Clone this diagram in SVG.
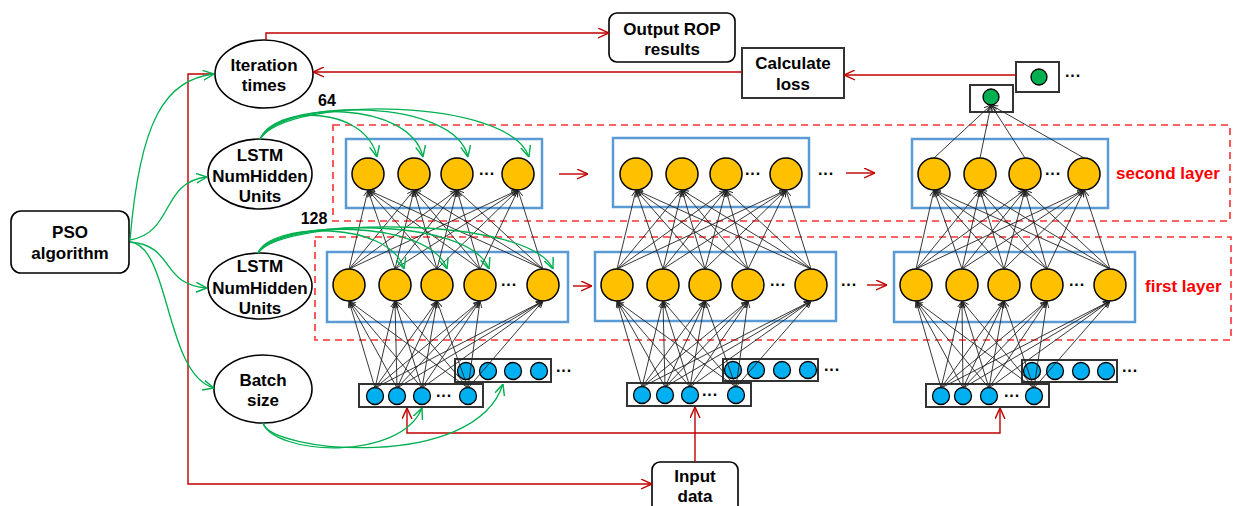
<svg xmlns="http://www.w3.org/2000/svg" width="1233" height="506" viewBox="0 0 1233 506">
<style>
text{font-family:"Liberation Sans",Arial,sans-serif;font-weight:bold;font-size:17px;fill:#000;text-anchor:middle}
.lbl{fill:#FF0000;text-anchor:start}
.dots{font-size:16px}
.num{font-size:16px}
.shape{fill:#fff;stroke:#000;stroke-width:1.6}
.box{fill:#fff;stroke:#333;stroke-width:2}
.dash{fill:none;stroke:#FF3030;stroke-width:1.6;stroke-dasharray:7,5}
.blue{fill:none;stroke:#5B9BD5;stroke-width:2.5}
.neu{fill:#FFC000;stroke:#000;stroke-width:1.5}
.inp{fill:#00B0F0;stroke:#000;stroke-width:1.3}
.out{fill:#00B050;stroke:#000;stroke-width:1.3}
.bl line{stroke:#222;stroke-width:0.9;marker-end:url(#ab)}
.red{fill:none;stroke:#C00000;stroke-width:1.4}
.gr{fill:none;stroke:#00B050;stroke-width:1.3;marker-end:url(#ag)}
</style>
<defs>
<marker id="ab" viewBox="0 0 10 10" refX="10" refY="5" markerWidth="7" markerHeight="7" orient="auto" markerUnits="userSpaceOnUse"><path d="M0,1 L10,5 L0,9" fill="none" stroke="#222" stroke-width="1.3"/></marker>
<marker id="ar" viewBox="0 0 10 10" refX="10" refY="5" markerWidth="11" markerHeight="11" orient="auto" markerUnits="userSpaceOnUse"><path d="M0,0.5 L10,5 L0,9.5" fill="none" stroke="#C00000" stroke-width="1.3"/></marker>
<marker id="ag" viewBox="0 0 10 10" refX="10" refY="5" markerWidth="11" markerHeight="11" orient="auto" markerUnits="userSpaceOnUse"><path d="M0,0.5 L10,5 L0,9.5" fill="none" stroke="#00B050" stroke-width="1.3"/></marker>
</defs>
<rect width="1233" height="506" fill="#fff"/>

<g id="layer-frames">
<rect class="dash" x="333" y="125" width="897" height="96"/>
<rect class="dash" x="315" y="237" width="916" height="103"/>
</g>

<g id="pso"><rect class="shape" x="11" y="211" width="118" height="62" rx="10"/><text x="70" y="238">PSO</text><text x="70" y="259">algorithm</text></g>
<g id="iteration"><ellipse class="shape" cx="264" cy="74" rx="49" ry="34"/><text x="264" y="71">Iteration</text><text x="264" y="91">times</text></g>
<g id="lstm1"><ellipse class="shape" cx="260" cy="174" rx="52" ry="35"/><text x="260" y="161">LSTM</text><text x="260" y="182">NumHidden</text><text x="260" y="202">Units</text></g>
<g id="lstm2"><ellipse class="shape" cx="260" cy="286" rx="52" ry="33"/><text x="260" y="272">LSTM</text><text x="260" y="294">NumHidden</text><text x="260" y="314">Units</text></g>
<g id="batch"><ellipse class="shape" cx="263" cy="389" rx="49" ry="34"/><text x="263" y="386">Batch</text><text x="263" y="406">size</text></g>
<g id="output-rop"><rect class="shape" x="609" y="13" width="126" height="49" rx="8"/><text x="672" y="35">Output ROP</text><text x="672" y="55">results</text></g>
<g id="calc-loss"><rect class="box" x="742" y="48" width="102" height="50"/><text x="793" y="69">Calculate</text><text x="793" y="90">loss</text></g>
<g id="input-data"><rect class="shape" x="652" y="462" width="86" height="52" rx="8"/><text x="695" y="482">Input</text><text x="695" y="502">data</text></g>
<g id="labels"><text class="num" x="327" y="106">64</text><text class="num" x="314" y="224">128</text><text class="lbl" x="1116" y="179">second layer</text><text class="lbl" x="1145" y="292">first layer</text></g>

<g id="second-layer-1"><rect class="blue" x="346" y="139" width="196" height="69"/>
<circle class="neu" cx="368" cy="174" r="16"/><circle class="neu" cx="414" cy="174" r="16"/><circle class="neu" cx="457" cy="174" r="16"/><circle class="neu" cx="518" cy="174" r="16"/><text class="dots" x="487" y="179">···</text></g>
<g id="second-layer-2"><rect class="blue" x="613" y="138" width="196" height="69"/>
<circle class="neu" cx="636" cy="174" r="16"/><circle class="neu" cx="682" cy="174" r="16"/><circle class="neu" cx="726" cy="174" r="16"/><circle class="neu" cx="786" cy="174" r="16"/><text class="dots" x="753" y="179">···</text><text class="dots" x="826" y="179">···</text></g>
<g id="second-layer-3"><rect class="blue" x="912" y="139" width="196" height="69"/>
<circle class="neu" cx="934" cy="174" r="16"/><circle class="neu" cx="980" cy="174" r="16"/><circle class="neu" cx="1025" cy="174" r="16"/><circle class="neu" cx="1084" cy="174" r="16"/><text class="dots" x="1053" y="179">···</text></g>

<g id="first-layer-1"><rect class="blue" x="327" y="252" width="241" height="70"/>
<circle class="neu" cx="349" cy="285" r="16"/><circle class="neu" cx="395" cy="285" r="16"/><circle class="neu" cx="437" cy="285" r="16"/><circle class="neu" cx="480" cy="285" r="16"/><circle class="neu" cx="543" cy="285" r="16"/><text class="dots" x="509" y="290">···</text></g>
<g id="first-layer-2"><rect class="blue" x="595" y="252" width="241" height="69"/>
<circle class="neu" cx="617" cy="285" r="16"/><circle class="neu" cx="663" cy="285" r="16"/><circle class="neu" cx="705" cy="285" r="16"/><circle class="neu" cx="748" cy="285" r="16"/><circle class="neu" cx="811" cy="285" r="16"/><text class="dots" x="778" y="290">···</text><text class="dots" x="849" y="290">···</text></g>
<g id="first-layer-3"><rect class="blue" x="894" y="252" width="241" height="70"/>
<circle class="neu" cx="916" cy="285" r="16"/><circle class="neu" cx="962" cy="285" r="16"/><circle class="neu" cx="1004" cy="285" r="16"/><circle class="neu" cx="1047" cy="285" r="16"/><circle class="neu" cx="1110" cy="285" r="16"/><text class="dots" x="1077" y="290">···</text></g>

<g id="input-back-1"><rect class="box" x="455" y="359" width="96" height="23"/>
<circle class="inp" cx="466" cy="371" r="8.5"/><circle class="inp" cx="488" cy="371" r="8.5"/><circle class="inp" cx="513" cy="371" r="8.5"/><circle class="inp" cx="539" cy="371" r="8.5"/><text class="dots" x="564" y="376">···</text></g>
<g id="input-front-1"><rect class="box" x="359" y="384" width="124" height="23"/>
<circle class="inp" cx="375" cy="396" r="8.5"/><circle class="inp" cx="397" cy="396" r="8.5"/><circle class="inp" cx="422" cy="396" r="8.5"/><circle class="inp" cx="468" cy="396" r="8.5"/><text class="dots" x="444" y="401">···</text></g>
<g id="input-back-2"><rect class="box" x="723" y="359" width="95" height="22"/>
<circle class="inp" cx="733" cy="370" r="8.5"/><circle class="inp" cx="756" cy="370" r="8.5"/><circle class="inp" cx="782" cy="370" r="8.5"/><circle class="inp" cx="808" cy="370" r="8.5"/><text class="dots" x="832" y="375">···</text></g>
<g id="input-front-2"><rect class="box" x="627" y="383" width="124" height="23"/>
<circle class="inp" cx="642" cy="395" r="8.5"/><circle class="inp" cx="665" cy="395" r="8.5"/><circle class="inp" cx="690" cy="395" r="8.5"/><circle class="inp" cx="736" cy="395" r="8.5"/><text class="dots" x="710" y="400">···</text></g>
<g id="input-back-3"><rect class="box" x="1022" y="360" width="95" height="22"/>
<circle class="inp" cx="1032" cy="371" r="8.5"/><circle class="inp" cx="1055" cy="371" r="8.5"/><circle class="inp" cx="1081" cy="371" r="8.5"/><circle class="inp" cx="1106" cy="371" r="8.5"/><text class="dots" x="1130" y="376">···</text></g>
<g id="input-front-3"><rect class="box" x="926" y="384" width="123" height="23"/>
<circle class="inp" cx="941" cy="396" r="8.5"/><circle class="inp" cx="963" cy="396" r="8.5"/><circle class="inp" cx="989" cy="396" r="8.5"/><circle class="inp" cx="1034" cy="396" r="8.5"/><text class="dots" x="1012" y="401">···</text></g>

<g id="output-1"><rect class="box" x="970" y="85" width="43" height="27"/><circle class="out" cx="991" cy="97" r="8"/></g>
<g id="output-2"><rect class="box" x="1016" y="62" width="43" height="30"/><circle class="out" cx="1039" cy="77" r="8"/><text class="dots" x="1073" y="81">···</text></g>

<g id="connectors">
<g class="bl">
<line x1="375" y1="388" x2="349" y2="301"/><line x1="375" y1="388" x2="395" y2="301"/><line x1="375" y1="388" x2="437" y2="301"/><line x1="375" y1="388" x2="480" y2="301"/><line x1="375" y1="388" x2="543" y2="301"/>
<line x1="397" y1="388" x2="349" y2="301"/><line x1="397" y1="388" x2="395" y2="301"/><line x1="397" y1="388" x2="437" y2="301"/><line x1="397" y1="388" x2="480" y2="301"/><line x1="397" y1="388" x2="543" y2="301"/>
<line x1="422" y1="388" x2="349" y2="301"/><line x1="422" y1="388" x2="395" y2="301"/><line x1="422" y1="388" x2="437" y2="301"/><line x1="422" y1="388" x2="480" y2="301"/><line x1="422" y1="388" x2="543" y2="301"/>
<line x1="468" y1="388" x2="349" y2="301"/><line x1="468" y1="388" x2="395" y2="301"/><line x1="468" y1="388" x2="437" y2="301"/><line x1="468" y1="388" x2="480" y2="301"/><line x1="468" y1="388" x2="543" y2="301"/>
<line x1="349" y1="269" x2="368" y2="190"/><line x1="349" y1="269" x2="414" y2="190"/><line x1="349" y1="269" x2="457" y2="190"/><line x1="349" y1="269" x2="518" y2="190"/>
<line x1="395" y1="269" x2="368" y2="190"/><line x1="395" y1="269" x2="414" y2="190"/><line x1="395" y1="269" x2="457" y2="190"/><line x1="395" y1="269" x2="518" y2="190"/>
<line x1="437" y1="269" x2="368" y2="190"/><line x1="437" y1="269" x2="414" y2="190"/><line x1="437" y1="269" x2="457" y2="190"/><line x1="437" y1="269" x2="518" y2="190"/>
<line x1="480" y1="269" x2="368" y2="190"/><line x1="480" y1="269" x2="414" y2="190"/><line x1="480" y1="269" x2="457" y2="190"/><line x1="480" y1="269" x2="518" y2="190"/>
<line x1="543" y1="269" x2="368" y2="190"/><line x1="543" y1="269" x2="414" y2="190"/><line x1="543" y1="269" x2="457" y2="190"/><line x1="543" y1="269" x2="518" y2="190"/>

<line x1="642" y1="387" x2="617" y2="301"/><line x1="642" y1="387" x2="663" y2="301"/><line x1="642" y1="387" x2="705" y2="301"/><line x1="642" y1="387" x2="748" y2="301"/><line x1="642" y1="387" x2="811" y2="301"/>
<line x1="665" y1="387" x2="617" y2="301"/><line x1="665" y1="387" x2="663" y2="301"/><line x1="665" y1="387" x2="705" y2="301"/><line x1="665" y1="387" x2="748" y2="301"/><line x1="665" y1="387" x2="811" y2="301"/>
<line x1="690" y1="387" x2="617" y2="301"/><line x1="690" y1="387" x2="663" y2="301"/><line x1="690" y1="387" x2="705" y2="301"/><line x1="690" y1="387" x2="748" y2="301"/><line x1="690" y1="387" x2="811" y2="301"/>
<line x1="736" y1="387" x2="617" y2="301"/><line x1="736" y1="387" x2="663" y2="301"/><line x1="736" y1="387" x2="705" y2="301"/><line x1="736" y1="387" x2="748" y2="301"/><line x1="736" y1="387" x2="811" y2="301"/>
<line x1="617" y1="269" x2="636" y2="190"/><line x1="617" y1="269" x2="682" y2="190"/><line x1="617" y1="269" x2="726" y2="190"/><line x1="617" y1="269" x2="786" y2="190"/>
<line x1="663" y1="269" x2="636" y2="190"/><line x1="663" y1="269" x2="682" y2="190"/><line x1="663" y1="269" x2="726" y2="190"/><line x1="663" y1="269" x2="786" y2="190"/>
<line x1="705" y1="269" x2="636" y2="190"/><line x1="705" y1="269" x2="682" y2="190"/><line x1="705" y1="269" x2="726" y2="190"/><line x1="705" y1="269" x2="786" y2="190"/>
<line x1="748" y1="269" x2="636" y2="190"/><line x1="748" y1="269" x2="682" y2="190"/><line x1="748" y1="269" x2="726" y2="190"/><line x1="748" y1="269" x2="786" y2="190"/>
<line x1="811" y1="269" x2="636" y2="190"/><line x1="811" y1="269" x2="682" y2="190"/><line x1="811" y1="269" x2="726" y2="190"/><line x1="811" y1="269" x2="786" y2="190"/>

<line x1="941" y1="388" x2="916" y2="301"/><line x1="941" y1="388" x2="962" y2="301"/><line x1="941" y1="388" x2="1004" y2="301"/><line x1="941" y1="388" x2="1047" y2="301"/><line x1="941" y1="388" x2="1110" y2="301"/>
<line x1="963" y1="388" x2="916" y2="301"/><line x1="963" y1="388" x2="962" y2="301"/><line x1="963" y1="388" x2="1004" y2="301"/><line x1="963" y1="388" x2="1047" y2="301"/><line x1="963" y1="388" x2="1110" y2="301"/>
<line x1="989" y1="388" x2="916" y2="301"/><line x1="989" y1="388" x2="962" y2="301"/><line x1="989" y1="388" x2="1004" y2="301"/><line x1="989" y1="388" x2="1047" y2="301"/><line x1="989" y1="388" x2="1110" y2="301"/>
<line x1="1034" y1="388" x2="916" y2="301"/><line x1="1034" y1="388" x2="962" y2="301"/><line x1="1034" y1="388" x2="1004" y2="301"/><line x1="1034" y1="388" x2="1047" y2="301"/><line x1="1034" y1="388" x2="1110" y2="301"/>
<line x1="916" y1="269" x2="934" y2="190"/><line x1="916" y1="269" x2="980" y2="190"/><line x1="916" y1="269" x2="1025" y2="190"/><line x1="916" y1="269" x2="1084" y2="190"/>
<line x1="962" y1="269" x2="934" y2="190"/><line x1="962" y1="269" x2="980" y2="190"/><line x1="962" y1="269" x2="1025" y2="190"/><line x1="962" y1="269" x2="1084" y2="190"/>
<line x1="1004" y1="269" x2="934" y2="190"/><line x1="1004" y1="269" x2="980" y2="190"/><line x1="1004" y1="269" x2="1025" y2="190"/><line x1="1004" y1="269" x2="1084" y2="190"/>
<line x1="1047" y1="269" x2="934" y2="190"/><line x1="1047" y1="269" x2="980" y2="190"/><line x1="1047" y1="269" x2="1025" y2="190"/><line x1="1047" y1="269" x2="1084" y2="190"/>
<line x1="1110" y1="269" x2="934" y2="190"/><line x1="1110" y1="269" x2="980" y2="190"/><line x1="1110" y1="269" x2="1025" y2="190"/><line x1="1110" y1="269" x2="1084" y2="190"/>
<line x1="934" y1="158" x2="991" y2="105"/><line x1="980" y1="158" x2="991" y2="105"/><line x1="1025" y1="158" x2="991" y2="105"/><line x1="1084" y1="158" x2="991" y2="105"/>
</g>

<g class="red" marker-end="url(#ar)">
<path d="M266,40 L266,33 L609,33"/>
<path d="M742,72 L313,72"/>
<path d="M1016,75 L844,75"/>
<path d="M213,74 L188,74 L188,484 L652,484"/>
<path d="M695,462 L695,407"/>
<path d="M695,433 L407,433 L407,408"/>
<path d="M695,433 L1000,433 L1000,408"/>
<path d="M559,174 L588,174"/>
<path d="M846,173 L875,173"/>
<path d="M573,286 L592,286"/>
<path d="M867,285 L887,285"/>
</g>

<g>
<path class="gr" d="M130,240 C140,120 165,80 214,74"/>
<path class="gr" d="M130,240 C175,232 160,182 207,177"/>
<path class="gr" d="M130,242 C175,245 160,285 207,288"/>
<path class="gr" d="M130,242 C170,245 165,375 214,388"/>
<path class="gr" d="M260,139 C275,105 365,105 377,157"/>
<path class="gr" d="M260,139 C280,100 410,100 423,157"/>
<path class="gr" d="M260,139 C285,97 455,98 468,157"/>
<path class="gr" d="M260,139 C290,95 510,98 529,157"/>
<path class="gr" d="M258,253 C270,222 390,220 404,269"/>
<path class="gr" d="M258,253 C275,220 430,218 447,269"/>
<path class="gr" d="M258,253 C280,218 470,216 489,269"/>
<path class="gr" d="M258,253 C285,216 530,216 553,269"/>
<path class="gr" d="M263,423 C275,455 400,462 422,408"/>
<path class="gr" d="M263,423 C270,452 475,472 503,384"/>
</g>
</g>
</svg>
